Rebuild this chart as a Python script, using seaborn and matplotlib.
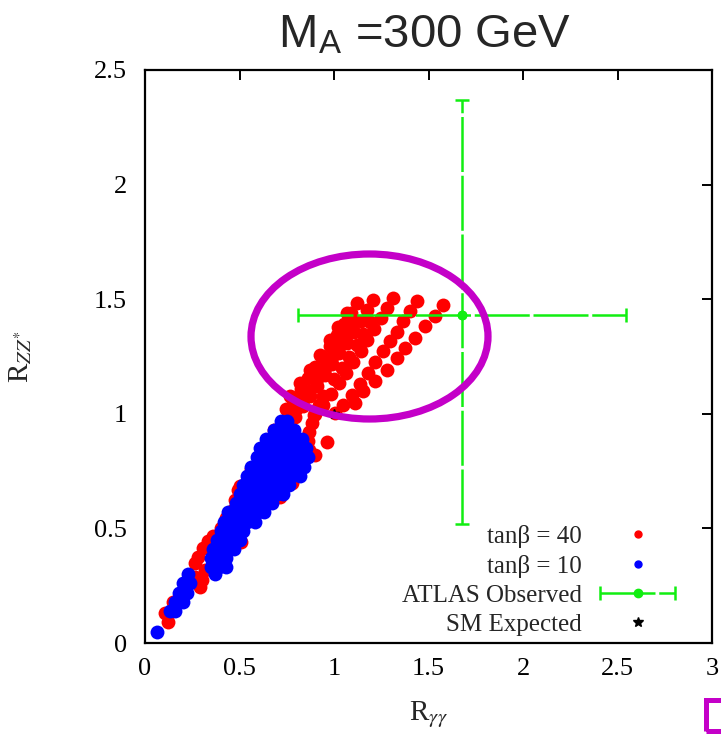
import matplotlib
matplotlib.use("Agg")
import matplotlib.pyplot as plt
import seaborn as sns
import pandas as pd
from matplotlib.patches import Ellipse, Rectangle
from matplotlib.lines import Line2D
from matplotlib.container import ErrorbarContainer
from matplotlib.legend_handler import HandlerErrorbar

sns.set_style("white")
plt.rcParams["font.family"] = ["Liberation Serif", "DejaVu Serif"]
plt.rcParams["mathtext.fontset"] = "stix"

# ---- data ----
# tanβ = 40 (red) points
red_x = [
    1.578, 1.534, 1.481, 1.429, 1.376, 1.332, 1.279, 1.217, 1.155, 1.111,
    1.437, 1.402, 1.367, 1.331, 1.296, 1.257, 1.218, 1.180, 1.137, 1.093, 1.049, 1.005,
    1.314, 1.282, 1.247, 1.211, 1.176, 1.141, 1.102, 1.063, 1.024, 0.982, 0.940, 0.894,
    1.208, 1.176, 1.141, 1.106, 1.067, 1.028, 0.989, 0.950, 0.912, 0.873, 0.834, 0.793,
    1.120, 1.088, 1.053, 1.017, 0.979, 0.940, 0.901, 0.862, 0.823, 0.785,
    1.100, 1.065, 1.030, 0.990, 0.950, 0.910, 0.870, 0.830,
    1.190, 1.155, 1.120, 1.080, 1.040, 1.000,
    1.067, 1.020, 0.979, 0.926, 0.873, 0.820, 0.767, 0.745,
    0.944, 0.920, 0.900, 0.882, 0.870, 0.862, 0.870, 0.900, 0.961,
    0.820, 0.800, 0.776,
    0.123, 0.106, 0.150, 0.265, 0.265, 0.282, 0.300, 0.309, 0.317, 0.335, 0.290,
    0.362, 0.400, 0.430, 0.468, 0.476, 0.494, 0.503, 0.510, 0.714, 0.560, 0.620,
    0.680, 0.780, 0.820,
]
red_y = [
    1.476, 1.425, 1.381, 1.330, 1.287, 1.243, 1.192, 1.141, 1.098, 1.047,
    1.490, 1.447, 1.403, 1.359, 1.316, 1.272, 1.224, 1.177, 1.131, 1.083, 1.039, 1.003,
    1.505, 1.461, 1.418, 1.370, 1.323, 1.276, 1.228, 1.180, 1.134, 1.087, 1.039, 0.995,
    1.498, 1.454, 1.407, 1.359, 1.311, 1.265, 1.218, 1.170, 1.122, 1.076, 1.032, 0.988,
    1.483, 1.439, 1.393, 1.345, 1.297, 1.250, 1.204, 1.156, 1.108, 1.061,
    1.400, 1.350, 1.300, 1.250, 1.200, 1.150, 1.100, 1.050,
    1.400, 1.350, 1.300, 1.250, 1.200, 1.150,
    1.440, 1.380, 1.323, 1.258, 1.192, 1.134, 1.076, 1.020,
    1.076, 1.040, 1.000, 0.960, 0.920, 0.880, 0.840, 0.820, 0.879,
    1.060, 1.020, 0.980,
    0.093, 0.130, 0.180, 0.290, 0.348, 0.377, 0.275, 0.414, 0.319, 0.443, 0.246,
    0.465, 0.500, 0.545, 0.581, 0.625, 0.668, 0.683, 0.440, 0.639, 0.760, 0.850,
    0.930, 0.700, 0.780,
]

# tanβ = 10 (blue) points
blue_x = [
    0.72, 0.75,
    0.68, 0.72, 0.76, 0.79,
    0.64, 0.68, 0.72, 0.76, 0.80, 0.83,
    0.61, 0.65, 0.69, 0.73, 0.77, 0.81, 0.85,
    0.59, 0.63, 0.67, 0.71, 0.75, 0.79, 0.83, 0.86,
    0.56, 0.60, 0.64, 0.68, 0.72, 0.76, 0.80, 0.84,
    0.54, 0.58, 0.62, 0.66, 0.70, 0.74, 0.78, 0.82,
    0.52, 0.56, 0.60, 0.64, 0.68, 0.72, 0.76,
    0.50, 0.54, 0.58, 0.62, 0.66, 0.70, 0.73,
    0.48, 0.52, 0.56, 0.60, 0.64, 0.67,
    0.44, 0.48, 0.52, 0.56, 0.60, 0.63,
    0.42, 0.46, 0.50, 0.54, 0.58,
    0.40, 0.44, 0.48, 0.52,
    0.38, 0.42, 0.46, 0.50,
    0.36, 0.40, 0.44, 0.47,
    0.35, 0.39, 0.43,
    0.35, 0.39, 0.43,
    0.23, 0.37,
    0.20, 0.24,
    0.18, 0.22,
    0.16, 0.20,
    0.13, 0.16,
    0.062,
]
blue_y = [
    0.97, 0.97,
    0.93, 0.93, 0.93, 0.93,
    0.89, 0.89, 0.89, 0.89, 0.89, 0.89,
    0.85, 0.85, 0.85, 0.85, 0.85, 0.85, 0.85,
    0.81, 0.81, 0.81, 0.81, 0.81, 0.81, 0.81, 0.81,
    0.77, 0.77, 0.77, 0.77, 0.77, 0.77, 0.77, 0.77,
    0.73, 0.73, 0.73, 0.73, 0.73, 0.73, 0.73, 0.73,
    0.69, 0.69, 0.69, 0.69, 0.69, 0.69, 0.69,
    0.65, 0.65, 0.65, 0.65, 0.65, 0.65, 0.65,
    0.61, 0.61, 0.61, 0.61, 0.61, 0.61,
    0.57, 0.57, 0.57, 0.57, 0.57, 0.57,
    0.53, 0.53, 0.53, 0.53, 0.53,
    0.49, 0.49, 0.49, 0.49,
    0.45, 0.45, 0.45, 0.45,
    0.41, 0.41, 0.41, 0.41,
    0.37, 0.37, 0.37,
    0.33, 0.33, 0.33,
    0.30, 0.30,
    0.26, 0.26,
    0.22, 0.22,
    0.18, 0.18,
    0.14, 0.14,
    0.05,
]

# ATLAS observed point with asymmetric errors
obs_x = [1.675]
obs_y = [1.432]
obs_xerr = [[0.865], [0.870]]
obs_yerr = [[0.912], [0.935]]

# SM expectation
sm_x = [1.0]
sm_y = [1.0]

legend_labels = ["tanβ = 40", "tanβ = 10", "ATLAS Observed", "SM Expected"]
xticks = [0, 0.5, 1, 1.5, 2, 2.5, 3]
xtick_labels = ["0", "0.5", "1", "1.5", "2", "2.5", "3"]
yticks = [0, 0.5, 1, 1.5, 2, 2.5]
ytick_labels = ["0", "0.5", "1", "1.5", "2", "2.5"]

# ---- figure ----
W, H = 721, 738
fig = plt.figure(figsize=(W / 100, H / 100), dpi=100)
ax = fig.add_axes([145 / W, 1 - 643 / H, 567 / W, 573 / H])

df_red = pd.DataFrame({"x": red_x, "y": red_y})
df_blue = pd.DataFrame({"x": blue_x, "y": blue_y})
sns.scatterplot(data=df_red, x="x", y="y", color="#ff0000", s=100,
                linewidth=0, ax=ax, legend=False, zorder=2)
sns.scatterplot(data=df_blue, x="x", y="y", color="#0000ff", s=100,
                linewidth=0, ax=ax, legend=False, zorder=3)

green = "#11ee11"
dash = (0, (22, 1.5))
eb_h = ax.errorbar(obs_x, obs_y, xerr=obs_xerr, fmt="o", color=green, ms=6,
                   capsize=5, elinewidth=1.8, capthick=1.8, zorder=4)
eb_v = ax.errorbar(obs_x, obs_y, yerr=obs_yerr, fmt="o", color=green, ms=6,
                   capsize=5, elinewidth=1.8, capthick=1.8, zorder=4)
for e in (eb_h, eb_v):
    for lc in e[2]:
        lc.set_linestyle(dash)

ax.plot(sm_x, sm_y, ls="none", marker="*", color="black", ms=7, zorder=5)

ax.set_xlim(0, 3)
ax.set_ylim(0, 2.5)
ax.set_xticks(xticks)
ax.set_xticklabels(xtick_labels)
ax.set_yticks(yticks)
ax.set_yticklabels(ytick_labels)
ax.tick_params(direction="in", length=7, width=1.4, top=True, right=True,
               labelsize=19, colors="black")
ax.tick_params(axis="x", pad=11)
ax.tick_params(axis="y", pad=13)
for sp in ax.spines.values():
    sp.set_linewidth(1.6)
    sp.set_color("black")

ax.set_xlabel(r"R$_{\gamma\gamma}$", fontsize=21)
ax.xaxis.set_label_coords(0.5, -0.098)
ax.set_ylabel(r"R$_{ZZ^{*}}$", fontsize=21)
ax.yaxis.set_label_coords(-0.195, 0.5)

# legend
h_red = Line2D([], [], ls="none", marker="o", color="#ff0000", ms=5)
h_blue = Line2D([], [], ls="none", marker="o", color="#0000ff", ms=5)
h_sm = Line2D([], [], ls="none", marker="*", color="black", ms=7)
leg = ax.legend([h_red, h_blue, eb_h, h_sm], legend_labels,
                loc="lower right", bbox_to_anchor=(0.9365, 0.012),
                frameon=False, markerfirst=False, fontsize=18,
                handlelength=3.05, handletextpad=0.7, labelspacing=0.27,
                borderpad=0, borderaxespad=0,
                handler_map={ErrorbarContainer: HandlerErrorbar(xerr_size=1.5)})

# title
fig.text(425 / W, 1 - 48 / H, r"M$_{\mathregular{A}}$ =300 GeV", ha="center",
         va="baseline", fontsize=34, family=["Liberation Sans", "DejaVu Sans"])

# magenta annotations
magenta = "#c400c8"
ell = Ellipse((369.5 / W, 1 - 336.5 / H), 237 / W, 165 / H, transform=fig.transFigure,
              fill=False, edgecolor=magenta, linewidth=5.2, zorder=10)
fig.add_artist(ell)
rect = Rectangle((705.5 / W, 1 - 730.5 / H), 40 / W, 31 / H, transform=fig.transFigure,
                 fill=False, edgecolor=magenta, linewidth=3.6, zorder=10)
fig.add_artist(rect)

fig.savefig("out.png", dpi=100)
